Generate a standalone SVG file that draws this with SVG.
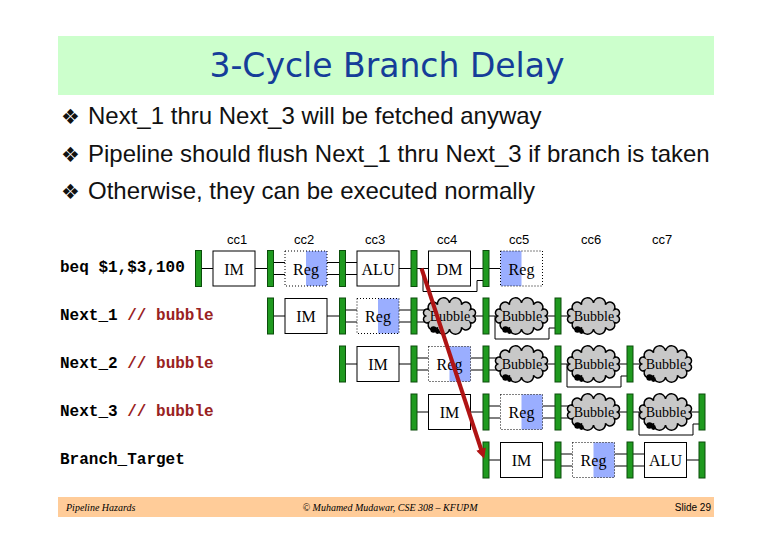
<svg xmlns="http://www.w3.org/2000/svg" xmlns:xlink="http://www.w3.org/1999/xlink" width="780" height="540" viewBox="0 0 780 540">
<style>
.bar{fill:#1f9a1f;stroke:#0b4d0b;stroke-width:1}
.box{fill:#fff;stroke:#000;stroke-width:1}
.rbox{fill:none;stroke:#000;stroke-width:1;stroke-dasharray:1,2}
.blue{fill:#9aaeff}
.st{font-family:"Liberation Serif","Times New Roman",serif;font-size:16px;fill:#000;text-anchor:middle}
.bt{font-family:"Liberation Serif","Times New Roman",serif;font-size:14px;fill:#000;text-anchor:middle}
.cc{font-family:"Liberation Sans",Arial,sans-serif;font-size:13px;fill:#000;text-anchor:middle}
.lbl{font-family:"Liberation Mono","Courier New",monospace;font-size:16px;font-weight:bold;fill:#000}
.cm{fill:#992222}
.bul{font-family:"Liberation Sans",Arial,sans-serif;font-size:24px;fill:#111}
.dia{font-family:"DejaVu Sans",sans-serif;font-size:21px}
.conn path{fill:none;stroke:#000;stroke-width:1}
.cloud{fill:#c8c8c8;stroke:#000;stroke-width:1.5}
</style>
<defs>
<g id="cloud">
<path class="cloud" d="M24,0 A1 1 0 0 1 20.78,6.5 A1 1 0 0 1 12,11.26 A1 1 0 0 1 0,13 A1 1 0 0 1 -12,11.26 A1 1 0 0 1 -20.78,6.5 A1 1 0 0 1 -24,0 A1 1 0 0 1 -20.78,-6.5 A1 1 0 0 1 -12,-11.26 A1 1 0 0 1 0,-13 A1 1 0 0 1 12,-11.26 A1 1 0 0 1 20.78,-6.5 A1 1 0 0 1 24,0 Z"/>
<circle cx="-16" cy="13.5" r="3.2" fill="#000"/>
<circle cx="-12" cy="15.5" r="2.4" fill="#000"/>
</g>
<marker id="ah" viewBox="0 0 10 10" refX="3" refY="5" markerWidth="14" markerHeight="10" markerUnits="userSpaceOnUse" orient="auto">
<path d="M0,0 L10,5 L0,10 z" fill="#b01414"/>
</marker>
</defs>
<rect width="780" height="540" fill="#fff"/>
<g id="title">
<rect x="58" y="36" width="656" height="59" fill="#ccffcc"/>
<text x="387" y="77" font-family="'DejaVu Sans','Liberation Sans',sans-serif" font-size="33" fill="#153d99" text-anchor="middle">3-Cycle Branch Delay</text>
</g>
<g id="bullets">
<text class="bul" x="61" y="124"><tspan class="dia">❖</tspan><tspan x="88">Next_1 thru Next_3 will be fetched anyway</tspan></text>
<text class="bul" x="61" y="162"><tspan class="dia">❖</tspan><tspan x="88">Pipeline should flush Next_1 thru Next_3 if branch is taken</tspan></text>
<text class="bul" x="61" y="199"><tspan class="dia">❖</tspan><tspan x="88">Otherwise, they can be executed normally</tspan></text>
</g>
<g id="cycles">
<text class="cc" x="237" y="244">cc1</text>
<text class="cc" x="304" y="244">cc2</text>
<text class="cc" x="375" y="244">cc3</text>
<text class="cc" x="447" y="244">cc4</text>
<text class="cc" x="519" y="244">cc5</text>
<text class="cc" x="591" y="244">cc6</text>
<text class="cc" x="662" y="244">cc7</text>
</g>
<g id="labels">
<text class="lbl" x="60" y="272">beq $1,$3,100</text>
<text class="lbl" x="60" y="320">Next_1 <tspan class="cm">// bubble</tspan></text>
<text class="lbl" x="60" y="368">Next_2 <tspan class="cm">// bubble</tspan></text>
<text class="lbl" x="60" y="416">Next_3 <tspan class="cm">// bubble</tspan></text>
<text class="lbl" x="60" y="464">Branch_Target</text>
</g>
<g id="connectors" class="conn">
<path d="M201.5,268.5H213 M255,268.5H267.5 M273.5,262.5H285 M273.5,274.5H285 M327,262.5H339.5 M327,274.5H339.5 M345.5,262.5H357 M345.5,274.5H357 M399,268.5H411 M417,268.5H428.5 M470.5,268.5H483 M423,268.5V291.5H477V280.5H483 M489,268.5H500.5"/>
<path d="M273.5,316H285 M327,316H339.5 M345.5,310H357 M345.5,322H357 M399,310H411 M399,322H411 M417,310H432 M417,322H432 M468,316H483 M489,316H505 M538,316H555 M495,316V339H549V328H555 M561,316H577"/>
<path d="M345.5,364H357 M399,364H411 M417,358H428.5 M417,370H428.5 M470.5,358H483 M470.5,370H483 M489,358H504 M489,370H504 M538,364H555 M561,364H577 M610,364H627 M567,364V387H621V376H627 M633,364H649"/>
<path d="M417,412H428.5 M470.5,412H483 M489,406H500.5 M489,418H500.5 M542.5,406H555 M542.5,418H555 M561,406H576 M561,418H576 M610,412H627 M633,412H649 M682,412H699 M639,412V435H693V424H699"/>
<path d="M489,460H500.5 M542.5,460H555 M561,454H572.5 M561,466H572.5 M614.5,454H627 M614.5,466H627 M633,454H644.5 M633,466H644.5 M686.5,460H699"/>
</g>
<g id="row0">
<rect class="bar" x="195.5" y="250.5" width="6" height="36"/>
<rect class="bar" x="267.5" y="250.5" width="6" height="36"/>
<rect class="bar" x="339.5" y="250.5" width="6" height="36"/>
<rect class="bar" x="411" y="250.5" width="6" height="36"/>
<rect class="bar" x="483" y="250.5" width="6" height="36"/>
<g id="r0-im"><rect class="box" x="213" y="251" width="42" height="35"/><text class="st" x="234" y="274.5">IM</text></g>
<g id="r0-reg"><rect x="285" y="251" width="42" height="35" fill="#fff"/><rect class="blue" x="306" y="251" width="21" height="35"/><rect class="rbox" x="285" y="251" width="42" height="35"/><text class="st" x="306" y="274.5">Reg</text></g>
<g id="r0-alu"><rect class="box" x="357" y="251" width="42" height="35"/><text class="st" x="378" y="274.5">ALU</text></g>
<g id="r0-dm"><rect class="box" x="428.5" y="251" width="42" height="35"/><text class="st" x="449.5" y="274.5">DM</text></g>
<g id="r0-wb"><rect x="500.5" y="251" width="42" height="35" fill="#fff"/><rect class="blue" x="500.5" y="251" width="21" height="35"/><rect class="rbox" x="500.5" y="251" width="42" height="35"/><text class="st" x="521.5" y="274.5">Reg</text></g>
</g>
<g id="row1">
<rect class="bar" x="267.5" y="298" width="6" height="36"/>
<rect class="bar" x="339.5" y="298" width="6" height="36"/>
<rect class="bar" x="411" y="298" width="6" height="36"/>
<rect class="bar" x="483" y="298" width="6" height="36"/>
<rect class="bar" x="555" y="298" width="6" height="36"/>
<g id="r1-im"><rect class="box" x="285" y="298.5" width="42" height="35"/><text class="st" x="306" y="322">IM</text></g>
<g id="r1-reg"><rect x="357" y="298.5" width="42" height="35" fill="#fff"/><rect class="blue" x="378" y="298.5" width="21" height="35"/><rect class="rbox" x="357" y="298.5" width="42" height="35"/><text class="st" x="378" y="322">Reg</text></g>
<g id="r1-b1"><use xlink:href="#cloud" x="449.5" y="316"/><text class="bt" x="450" y="321">Bubble</text></g>
<g id="r1-b2"><use xlink:href="#cloud" x="521.5" y="316"/><text class="bt" x="522" y="321">Bubble</text></g>
<g id="r1-b3"><use xlink:href="#cloud" x="593.5" y="316"/><text class="bt" x="594" y="321">Bubble</text></g>
</g>
<g id="row2">
<rect class="bar" x="339.5" y="346" width="6" height="36"/>
<rect class="bar" x="411" y="346" width="6" height="36"/>
<rect class="bar" x="483" y="346" width="6" height="36"/>
<rect class="bar" x="555" y="346" width="6" height="36"/>
<rect class="bar" x="627" y="346" width="6" height="36"/>
<g id="r2-im"><rect class="box" x="357" y="346.5" width="42" height="35"/><text class="st" x="378" y="370">IM</text></g>
<g id="r2-reg"><rect x="428.5" y="346.5" width="42" height="35" fill="#fff"/><rect class="blue" x="449.5" y="346.5" width="21" height="35"/><rect class="rbox" x="428.5" y="346.5" width="42" height="35"/><text class="st" x="449.5" y="370">Reg</text></g>
<g id="r2-b1"><use xlink:href="#cloud" x="521.5" y="364"/><text class="bt" x="522" y="369">Bubble</text></g>
<g id="r2-b2"><use xlink:href="#cloud" x="593.5" y="364"/><text class="bt" x="594" y="369">Bubble</text></g>
<g id="r2-b3"><use xlink:href="#cloud" x="665.5" y="364"/><text class="bt" x="666" y="369">Bubble</text></g>
</g>
<g id="row3">
<rect class="bar" x="411" y="394" width="6" height="36"/>
<rect class="bar" x="483" y="394" width="6" height="36"/>
<rect class="bar" x="555" y="394" width="6" height="36"/>
<rect class="bar" x="627" y="394" width="6" height="36"/>
<rect class="bar" x="699" y="394" width="6" height="36"/>
<g id="r3-im"><rect class="box" x="428.5" y="394.5" width="42" height="35"/><text class="st" x="449.5" y="418">IM</text></g>
<g id="r3-reg"><rect x="500.5" y="394.5" width="42" height="35" fill="#fff"/><rect class="blue" x="521.5" y="394.5" width="21" height="35"/><rect class="rbox" x="500.5" y="394.5" width="42" height="35"/><text class="st" x="521.5" y="418">Reg</text></g>
<g id="r3-b1"><use xlink:href="#cloud" x="593.5" y="412"/><text class="bt" x="594" y="417">Bubble</text></g>
<g id="r3-b2"><use xlink:href="#cloud" x="665.5" y="412"/><text class="bt" x="666" y="417">Bubble</text></g>
</g>
<g id="row4">
<rect class="bar" x="483" y="442" width="6" height="36"/>
<rect class="bar" x="555" y="442" width="6" height="36"/>
<rect class="bar" x="627" y="442" width="6" height="36"/>
<rect class="bar" x="699" y="442" width="6" height="36"/>
<g id="r4-im"><rect class="box" x="500.5" y="442.5" width="42" height="35"/><text class="st" x="521.5" y="466">IM</text></g>
<g id="r4-reg"><rect x="572.5" y="442.5" width="42" height="35" fill="#fff"/><rect class="blue" x="593.5" y="442.5" width="21" height="35"/><rect class="rbox" x="572.5" y="442.5" width="42" height="35"/><text class="st" x="593.5" y="466">Reg</text></g>
<g id="r4-alu"><rect class="box" x="644.5" y="442.5" width="42" height="35"/><text class="st" x="665.5" y="466">ALU</text></g>
</g>
<g id="branch-arrow">
<line x1="421.5" y1="268.5" x2="482" y2="452" stroke="#b01414" stroke-width="4" marker-end="url(#ah)"/>
</g>
<g id="footer">
<rect x="58" y="497" width="656" height="20" fill="#ffcc99"/>
<text x="66" y="511" font-family="'Liberation Serif',serif" font-style="italic" font-size="10" fill="#000">Pipeline Hazards</text>
<text x="390" y="511" font-family="'Liberation Serif',serif" font-style="italic" font-size="10" fill="#000" text-anchor="middle">© Muhamed Mudawar, CSE 308 – KFUPM</text>
<text x="711" y="511" font-family="'Liberation Sans',Arial,sans-serif" font-size="10" fill="#000" text-anchor="end">Slide 29</text>
</g>
</svg>
